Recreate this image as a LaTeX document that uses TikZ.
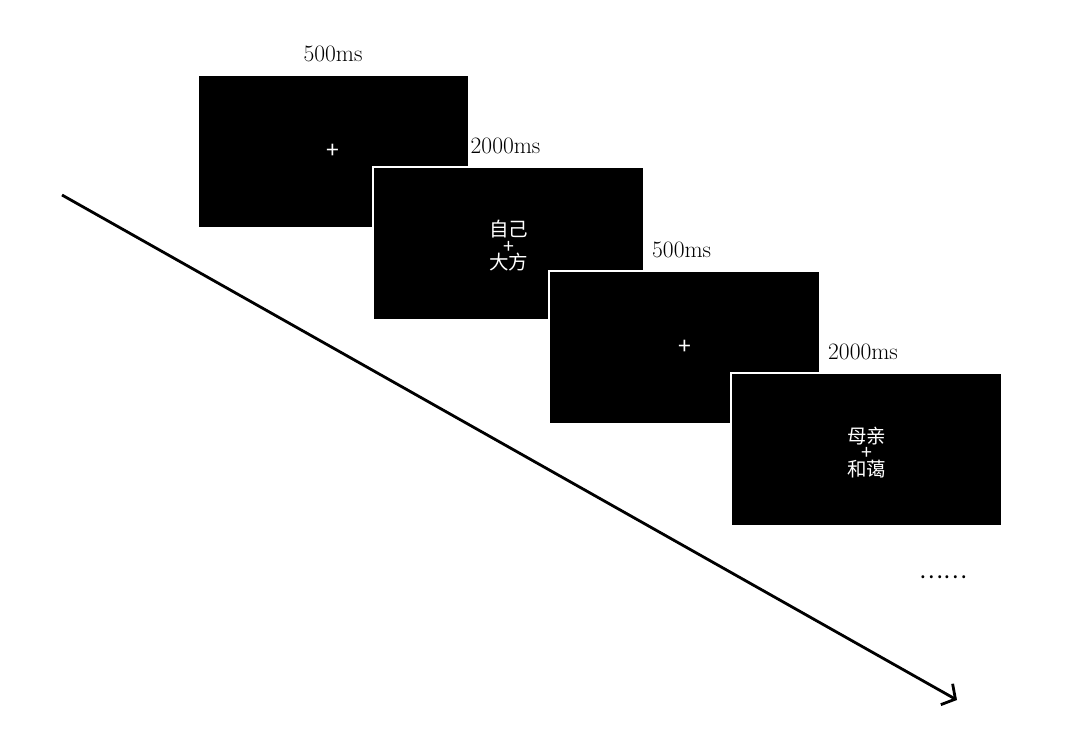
\documentclass[tikz,border=0pt]{standalone}
\usepackage{fontspec}
\newfontfamily\cjk{Noto Sans CJK SC}
\usepackage{tikz}
\usetikzlibrary{arrows.meta, positioning}

\begin{document}
\begin{tikzpicture}[
    x=1pt, y=-1pt,
    screen/.style={draw=white, fill=black, line width=2pt,
                   minimum width=271pt, minimum height=153pt,
                   text=white, font=\cjk\fontsize{23}{23}\selectfont},
    word/.style={text=white, font=\cjk\fontsize{19.5}{16.5}\selectfont,
                 align=center, inner sep=0pt},
    dur/.style={font=\fontsize{23.5}{28}\selectfont, inner sep=0pt},
    arr/.style={-{Straight Barb[length=10pt, width=24pt]}, line width=2.8pt}
  ]
  \useasboundingbox (0,0) rectangle (1074,732);
  % time axis
  \coordinate (t0) at (62,195);
  \coordinate (t1) at (957,700);
  \draw[arr] (t0) -- (t1);
  % screens
  \node[screen] (s1) at (333,151.5) {+};
  \node[screen] (s2) at (508.5,243) {};
  \node[screen] (s3) at (684.5,347) {+};
  \node[screen] (s4) at (866.5,449.5) {};
  \node[word] (w2) at ([yshift=-3pt]s2.center) {自己\\+\\大方};
  \node[word] (w4) at ([yshift=-3pt]s4.center) {母亲\\+\\和蔼};
  % durations
  \node[dur] (d1) at ([yshift=20pt]s1.north) {500ms};
  \node[dur, anchor=west] (d2) at ([xshift=1pt, yshift=20pt]s2.north -| s1.east) {2000ms};
  \node[dur, anchor=west] (d3) at ([xshift=7pt, yshift=20pt]s3.north -| s2.east) {500ms};
  \node[dur, anchor=west] (d4) at ([xshift=7pt, yshift=20pt]s4.north -| s3.east) {2000ms};
  \node[font=\cjk\fontsize{22.5}{24}\selectfont, inner sep=0pt] (etc) at (943.5,577) {……};
\end{tikzpicture}
\end{document}
